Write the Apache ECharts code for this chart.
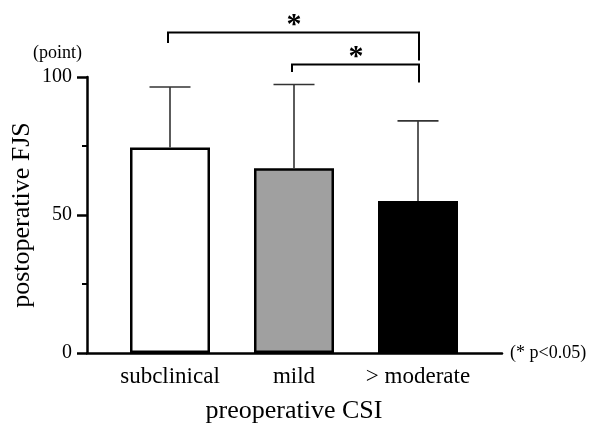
<!DOCTYPE html>
<html>
<head>
<meta charset="utf-8">
<script src="https://cdn.jsdelivr.net/npm/echarts@6/dist/echarts.min.js"></script>
<style>
  html, body { margin: 0; padding: 0; background: #fff; }
  #chart { width: 589px; height: 423px; }
</style>
</head>
<body>
<div id="chart"></div>
<script>
// data
const categories = ['subclinical', 'mild', '> moderate'];
const means = [74.5, 66.9, 55.1];
const upperSD = [96.4, 97.3, 84.1];
// significance comparisons: [from, to]
const comparisons = [[0, 2], [1, 2]];
const sigLabels = ['*', '*'];

// styles / layout
const FONT = 'Liberation Serif';
const barFills = ['#ffffff', '#a0a0a0', '#000000'];
const bracketLayout = [
  { top: 116.1, leftEnd: 112.3, rightEnd: 106.0 },
  { top: 104.5, leftEnd: 101.8, rightEnd: 98.0 }
];

const chart = echarts.init(document.getElementById('chart'));

const errData = categories.map((c, i) => [i, means[i], upperSD[i]]);
const bracketData = comparisons.map((c, i) => [c[0], c[1], i]);

const option = {
  animation: false,
  grid: [
    { left: 87, right: 87, top: 77, bottom: 70, outerBoundsMode: 'none', containLabel: false },   // axis frame
    { left: 108, right: 109, top: 77, bottom: 70, outerBoundsMode: 'none', containLabel: false }  // bars
  ],
  xAxis: [
    {
      gridIndex: 0,
      type: 'value',
      min: 0,
      max: 1,
      axisLine: { show: true, lineStyle: { color: '#000', width: 2.5 } },
      axisTick: { show: false },
      axisLabel: { show: false },
      splitLine: { show: false },
      name: '(* p<0.05)',
      nameLocation: 'end',
      nameGap: 8,
      nameTextStyle: { fontFamily: FONT, fontSize: 18, color: '#000', padding: [0, 0, 20, 0] }
    },
    {
      gridIndex: 1,
      type: 'category',
      data: categories,
      axisLine: { show: false },
      axisTick: { show: false },
      axisLabel: { fontFamily: FONT, fontSize: 23, color: '#000', margin: 12, interval: 0 },
      name: 'preoperative CSI',
      nameLocation: 'middle',
      nameGap: 45,
      nameTextStyle: { fontFamily: FONT, fontSize: 26, color: '#000' }
    }
  ],
  yAxis: [
    {
      gridIndex: 0,
      type: 'value',
      min: 0,
      max: 100,
      interval: 50,
      axisLine: { show: true, lineStyle: { color: '#000', width: 2.5 } },
      axisTick: { show: true, length: 10, lineStyle: { color: '#000', width: 2.5 } },
      minorTick: { show: true, splitNumber: 2, length: 5, lineStyle: { color: '#000', width: 2 } },
      axisLabel: { fontFamily: FONT, fontSize: 20, color: '#000', margin: 15 },
      splitLine: { show: false },
      name: 'postoperative FJS',
      nameLocation: 'middle',
      nameGap: 52,
      nameMoveOverlap: false,
      nameTextStyle: { fontFamily: FONT, fontSize: 26, color: '#000' }
    },
    {
      gridIndex: 1,
      type: 'value',
      min: 0,
      max: 100,
      axisLine: { show: false },
      axisTick: { show: false },
      axisLabel: { show: false },
      splitLine: { show: false },
      name: '(point)',
      nameLocation: 'end',
      nameGap: 15,
      nameTextStyle: { fontFamily: FONT, fontSize: 18, color: '#000', align: 'right', padding: [0, 26, 0, 0] }
    }
  ],
  series: [
    {
      type: 'bar',
      xAxisIndex: 1,
      yAxisIndex: 1,
      barWidth: 80,
      data: means.map((v, i) => ({
        value: v,
        itemStyle: { color: barFills[i], borderColor: '#000', borderWidth: 2.5 }
      }))
    },
    {
      type: 'custom',
      xAxisIndex: 1,
      yAxisIndex: 1,
      data: errData,
      encode: { x: 0, y: [1, 2] },
      z: 3,
      renderItem: function (params, api) {
        const x = api.value(0);
        const base = api.coord([x, api.value(1)]);
        const top = api.coord([x, api.value(2)]);
        const half = 20.5;
        const style = { stroke: '#333', lineWidth: 1.6 };
        return {
          type: 'group',
          children: [
            { type: 'line', shape: { x1: base[0], y1: base[1], x2: top[0], y2: top[1] }, style: style },
            { type: 'line', shape: { x1: top[0] - half, y1: top[1], x2: top[0] + half, y2: top[1] }, style: style }
          ]
        };
      }
    },
    {
      type: 'custom',
      xAxisIndex: 1,
      yAxisIndex: 1,
      data: bracketData,
      clip: false,
      silent: true,
      renderItem: function (params, api) {
        const idx = api.value(2);
        const lay = bracketLayout[idx];
        const a = api.value(0);
        const b = api.value(1);
        const pTopL = api.coord([a, lay.top]);
        const pTopR = api.coord([b, lay.top]);
        const pL = api.coord([a, lay.leftEnd]);
        const pR = api.coord([b, lay.rightEnd]);
        return {
          type: 'group',
          children: [
            {
              type: 'polyline',
              shape: { points: [[pL[0] - 2, pL[1]], [pTopL[0] - 2, pTopL[1]], [pTopR[0] + 1, pTopR[1]], [pR[0] + 1, pR[1]]] },
              style: { stroke: '#000', lineWidth: 2, fill: null }
            },
            {
              type: 'text',
              style: {
                text: sigLabels[idx],
                x: (pTopL[0] + pTopR[0]) / 2,
                y: pTopL[1] + 8,
                align: 'center',
                verticalAlign: 'bottom',
                fontFamily: FONT,
                fontSize: 30,
                fontWeight: 'bold',
                fill: '#000'
              }
            }
          ]
        };
      }
    }
  ]
};

chart.setOption(option);
</script>
</body>
</html>
